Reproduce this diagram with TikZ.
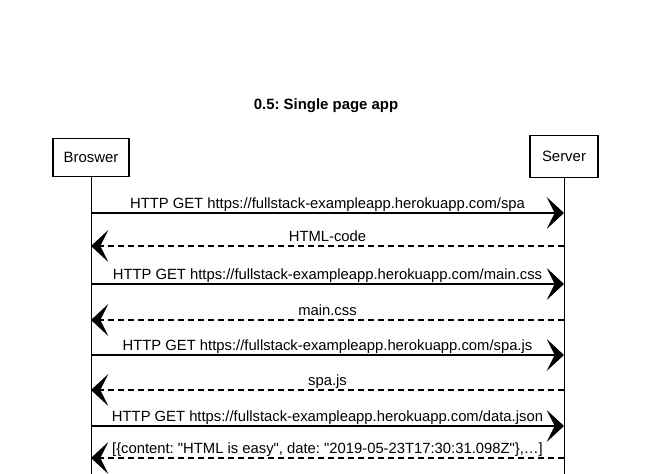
\documentclass[tikz,border=0pt]{standalone}
\usepackage{fontspec}
\setmainfont{Liberation Sans}[Ligatures=TeXOff]
\usetikzlibrary{arrows.meta}
\frenchspacing
\begin{document}
\begin{tikzpicture}[x=0.75pt,y=-0.75pt,
  actor/.style={draw,line width=0.8pt,minimum width=56pt,minimum height=29pt,inner sep=0pt,font=\fontsize{11.2}{13}\selectfont},
  msg/.style={line width=0.8pt,-{Stealth[length=13pt,width=24pt,inset=6pt]}},
  reply/.style={msg,dash pattern=on 4.5pt off 3pt},
  lbl/.style={font=\fontsize{11.1}{13}\selectfont,inner sep=1pt,anchor=base},
  life/.style={line width=0.6pt}]
\useasboundingbox (0,0) rectangle (661,474);
\node[font=\bfseries\fontsize{11.2}{13}\selectfont] (title) at (326,106) {0.5: Single page app};
\node[actor,minimum width=57pt] (b) at (91,157.5) {Broswer};
\node[actor,minimum width=51pt,minimum height=31pt] (s) at (564,156.5) {Server};
\coordinate (be) at (91,474);
\coordinate (se) at (564,474);
\draw[life] (b.south) -- (be);
\draw[life] (s.south) -- (se);
\foreach \i/\y/\t in {
  1/213/{HTTP GET https://fullstack-exampleapp.herokuapp.com/spa},
  2/246/{HTML-code},
  3/284/{HTTP GET https://fullstack-exampleapp.herokuapp.com/main.css},
  4/320/{main.css},
  5/355/{HTTP GET https://fullstack-exampleapp.herokuapp.com/spa.js},
  6/390/{spa.js},
  7/426/{HTTP GET https://fullstack-exampleapp.herokuapp.com/data.json},
  8/458/{[\{content: "HTML is easy", date: "2019-05-23T17:30:31.098Z"\},…]}}{
  \coordinate (bl\i) at (91,\y);
  \coordinate (sl\i) at (564,\y);
  \node[lbl] (t\i) at (327.5,\y-4.5) {\t};
}
\draw[msg] (bl1) -- (sl1);
\draw[reply] (sl2) -- (bl2);
\draw[msg] (bl3) -- (sl3);
\draw[reply] (sl4) -- (bl4);
\draw[msg] (bl5) -- (sl5);
\draw[reply] (sl6) -- (bl6);
\draw[msg] (bl7) -- (sl7);
\draw[reply] (sl8) -- (bl8);
\end{tikzpicture}
\end{document}
